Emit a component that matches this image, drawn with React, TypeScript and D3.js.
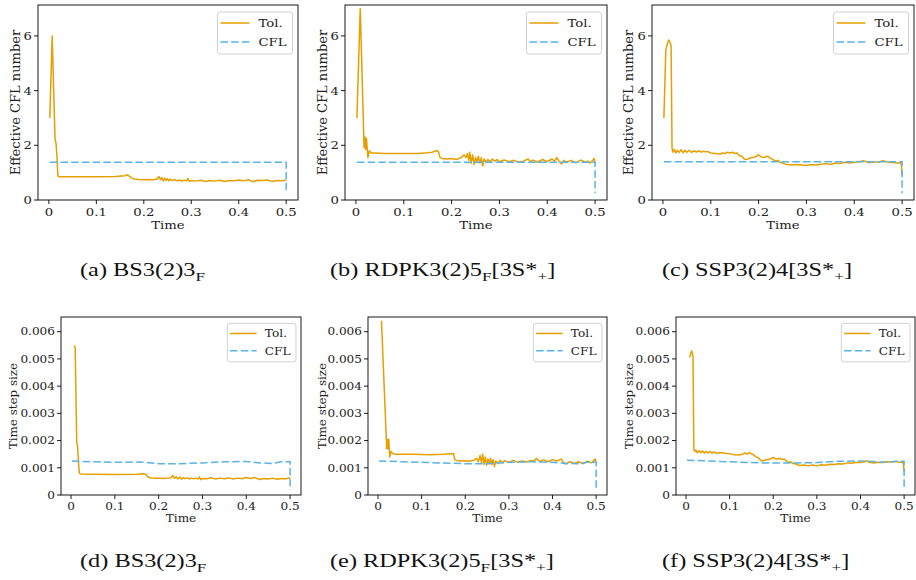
import React from 'react';
import * as d3 from 'd3';

type Pt = [number, number];

// ---------- tick values ----------
const xTicks = [0, 0.1, 0.2, 0.3, 0.4, 0.5];
const cflTicks = [0, 2, 4, 6];
const dtTicks = [0, 0.001, 0.002, 0.003, 0.004, 0.005, 0.006];
const seriesNames = ['Tol.', 'CFL'];
const xLabel = 'Time';
const yLabelTop = 'Effective CFL number';
const yLabelBottom = 'Time step size';

// ---------- captions (text, subscript flag) ----------
const capA: [string, boolean][] = [['(a) BS3(2)3', false], ['F', true]];
const capB: [string, boolean][] = [['(b) RDPK3(2)5', false], ['F', true], ['[3S*', false], ['+', true], [']', false]];
const capC: [string, boolean][] = [['(c) SSP3(2)4[3S*', false], ['+', true], [']', false]];
const capD: [string, boolean][] = [['(d) BS3(2)3', false], ['F', true]];
const capE: [string, boolean][] = [['(e) RDPK3(2)5', false], ['F', true], ['[3S*', false], ['+', true], [']', false]];
const capF: [string, boolean][] = [['(f) SSP3(2)4[3S*', false], ['+', true], [']', false]];

// ---------- effective CFL number ----------
const tolA: Pt[] = [
  [0.002, 3.0], [0.007, 6.0], [0.013, 2.2], [0.015, 2.1], [0.017, 1.6], [0.019, 0.88], [0.021, 0.85],
  [0.05, 0.85], [0.1, 0.85], [0.14, 0.86], [0.16, 0.89], [0.166, 0.92], [0.17, 0.86], [0.175, 0.8],
  [0.18, 0.77], [0.19, 0.75], [0.2, 0.74], [0.21, 0.75], [0.22, 0.74], [0.228, 0.77], [0.232, 0.86],
  [0.235, 0.74], [0.238, 0.82], [0.241, 0.7], [0.244, 0.8], [0.247, 0.71], [0.25, 0.78], [0.253, 0.7],
  [0.256, 0.76], [0.26, 0.71], [0.265, 0.75], [0.27, 0.7], [0.275, 0.73], [0.28, 0.69], [0.285, 0.72],
  [0.29, 0.7], [0.293, 0.79], [0.296, 0.68], [0.3, 0.71], [0.31, 0.69], [0.32, 0.72], [0.33, 0.68],
  [0.34, 0.71], [0.35, 0.69], [0.36, 0.72], [0.37, 0.68], [0.38, 0.71], [0.39, 0.7], [0.4, 0.73],
  [0.41, 0.7], [0.42, 0.74], [0.43, 0.67], [0.44, 0.72], [0.45, 0.71], [0.46, 0.73], [0.47, 0.68],
  [0.48, 0.71], [0.49, 0.7], [0.5, 0.72],
];
const cflA: Pt[] = [[0.002, 1.38], [0.5, 1.38], [0.5, 0.25]];

const tolB: Pt[] = [
  [0.002, 3.0], [0.009, 7.0], [0.017, 1.9], [0.019, 2.3], [0.0205, 1.85], [0.022, 2.25], [0.025, 1.55],
  [0.028, 1.8], [0.032, 1.72], [0.04, 1.72], [0.06, 1.7], [0.1, 1.7], [0.13, 1.7], [0.15, 1.73],
  [0.16, 1.75], [0.168, 1.8], [0.172, 1.78], [0.176, 1.55], [0.18, 1.52], [0.19, 1.5], [0.2, 1.52],
  [0.21, 1.48], [0.22, 1.55], [0.226, 1.65], [0.23, 1.55], [0.233, 1.7], [0.236, 1.45], [0.238, 1.75],
  [0.241, 1.35], [0.244, 1.65], [0.247, 1.3], [0.25, 1.55], [0.253, 1.4], [0.256, 1.6], [0.259, 1.35],
  [0.262, 1.55], [0.265, 1.25], [0.268, 1.5], [0.272, 1.38], [0.276, 1.48], [0.28, 1.4], [0.285, 1.5],
  [0.29, 1.42], [0.295, 1.48], [0.3, 1.4], [0.31, 1.46], [0.32, 1.4], [0.33, 1.45], [0.34, 1.38],
  [0.35, 1.42], [0.36, 1.5], [0.365, 1.4], [0.37, 1.46], [0.38, 1.38], [0.39, 1.48], [0.4, 1.4],
  [0.41, 1.5], [0.415, 1.42], [0.42, 1.55], [0.425, 1.4], [0.43, 1.32], [0.435, 1.45], [0.44, 1.38],
  [0.45, 1.45], [0.46, 1.36], [0.47, 1.46], [0.48, 1.38], [0.485, 1.42], [0.49, 1.35], [0.495, 1.45],
  [0.498, 1.52], [0.5, 1.35],
];
const cflB: Pt[] = [[0.002, 1.38], [0.5, 1.38], [0.5, 0.25]];

const tolC: Pt[] = [
  [0.002, 3.0], [0.006, 5.5], [0.01, 5.75], [0.012, 5.85], [0.015, 5.75], [0.017, 5.65], [0.019, 1.9],
  [0.021, 1.75], [0.024, 1.85], [0.027, 1.72], [0.03, 1.82], [0.034, 1.74], [0.038, 1.84], [0.042, 1.73],
  [0.046, 1.82], [0.05, 1.75], [0.055, 1.82], [0.06, 1.74], [0.065, 1.8], [0.07, 1.75], [0.075, 1.8],
  [0.08, 1.75], [0.085, 1.78], [0.09, 1.76], [0.095, 1.76], [0.1, 1.72], [0.11, 1.7], [0.12, 1.68],
  [0.125, 1.72], [0.13, 1.7], [0.135, 1.75], [0.14, 1.72], [0.145, 1.75], [0.15, 1.7], [0.155, 1.72],
  [0.16, 1.62], [0.165, 1.6], [0.17, 1.5], [0.175, 1.48], [0.18, 1.52], [0.185, 1.55], [0.19, 1.55],
  [0.195, 1.6], [0.2, 1.65], [0.205, 1.58], [0.21, 1.55], [0.215, 1.58], [0.22, 1.6], [0.225, 1.52],
  [0.23, 1.48], [0.235, 1.42], [0.24, 1.45], [0.245, 1.38], [0.25, 1.35], [0.255, 1.32], [0.26, 1.3],
  [0.27, 1.28], [0.28, 1.3], [0.29, 1.28], [0.3, 1.26], [0.31, 1.3], [0.32, 1.28], [0.33, 1.31],
  [0.34, 1.33], [0.35, 1.3], [0.36, 1.35], [0.37, 1.33], [0.38, 1.38], [0.39, 1.35], [0.4, 1.38],
  [0.41, 1.4], [0.42, 1.44], [0.43, 1.36], [0.44, 1.4], [0.45, 1.38], [0.46, 1.44], [0.47, 1.38],
  [0.48, 1.37], [0.49, 1.35], [0.498, 1.36], [0.5, 0.9],
];
const cflC: Pt[] = [[0.002, 1.4], [0.5, 1.4], [0.5, 0.25]];

// ---------- time step size ----------
const tolD: Pt[] = [
  [0.008, 0.0055], [0.0095, 0.0054], [0.013, 0.0019], [0.015, 0.0018], [0.017, 0.0012], [0.019, 0.0008],
  [0.022, 0.00077], [0.05, 0.00076], [0.1, 0.00075], [0.15, 0.00076], [0.165, 0.00078], [0.17, 0.00076],
  [0.175, 0.00068], [0.18, 0.00063], [0.19, 0.00062], [0.2, 0.00062], [0.21, 0.00061], [0.22, 0.00062],
  [0.228, 0.00063], [0.232, 0.00072], [0.236, 0.00061], [0.24, 0.00067], [0.244, 0.00059], [0.248, 0.00066],
  [0.252, 0.00058], [0.256, 0.00064], [0.26, 0.0006], [0.265, 0.00063], [0.27, 0.00059], [0.275, 0.00062],
  [0.28, 0.0006], [0.285, 0.00062], [0.29, 0.00059], [0.293, 0.00067], [0.296, 0.00056], [0.3, 0.00061],
  [0.31, 0.0006], [0.32, 0.00063], [0.33, 0.00059], [0.34, 0.00062], [0.35, 0.0006], [0.36, 0.00063],
  [0.37, 0.00059], [0.38, 0.00062], [0.39, 0.0006], [0.4, 0.00064], [0.41, 0.00061], [0.42, 0.00064],
  [0.43, 0.00057], [0.44, 0.00061], [0.45, 0.00059], [0.46, 0.00062], [0.47, 0.00058], [0.48, 0.00061],
  [0.49, 0.0006], [0.5, 0.00063],
];
const cflD: Pt[] = [
  [0.002, 0.00125], [0.05, 0.00122], [0.1, 0.0012], [0.15, 0.00121], [0.17, 0.0012], [0.2, 0.00115],
  [0.25, 0.00115], [0.3, 0.00118], [0.35, 0.00122], [0.4, 0.00123], [0.43, 0.00118], [0.46, 0.00116],
  [0.48, 0.00122], [0.5, 0.00122], [0.5, 0.0002],
];

const tolE: Pt[] = [
  [0.008, 0.0064], [0.02, 0.0017], [0.0215, 0.00205], [0.023, 0.0017], [0.0245, 0.00205], [0.027, 0.0014],
  [0.03, 0.0016], [0.034, 0.00152], [0.04, 0.0015], [0.08, 0.0015], [0.12, 0.00148], [0.15, 0.0015],
  [0.165, 0.00152], [0.17, 0.0015], [0.173, 0.00153], [0.176, 0.0013], [0.18, 0.00127], [0.19, 0.00125],
  [0.2, 0.00126], [0.21, 0.00124], [0.22, 0.00128], [0.226, 0.00135], [0.23, 0.00122], [0.234, 0.00145],
  [0.237, 0.0012], [0.24, 0.0015], [0.243, 0.00112], [0.246, 0.0014], [0.249, 0.0011], [0.252, 0.00132],
  [0.255, 0.00115], [0.258, 0.00135], [0.261, 0.00112], [0.264, 0.0013], [0.267, 0.00105], [0.27, 0.00125],
  [0.275, 0.00115], [0.28, 0.00128], [0.285, 0.00118], [0.29, 0.00126], [0.3, 0.0012], [0.31, 0.00127],
  [0.32, 0.0012], [0.33, 0.00125], [0.34, 0.00121], [0.35, 0.00126], [0.36, 0.00128], [0.363, 0.00135],
  [0.37, 0.00124], [0.38, 0.00129], [0.39, 0.00122], [0.4, 0.0013], [0.41, 0.00125], [0.42, 0.00132],
  [0.425, 0.0012], [0.43, 0.00114], [0.44, 0.00122], [0.45, 0.00116], [0.46, 0.00122], [0.47, 0.00115],
  [0.48, 0.00124], [0.49, 0.00118], [0.495, 0.00128], [0.498, 0.00132], [0.5, 0.00118],
];
const cflE: Pt[] = [
  [0.002, 0.00125], [0.1, 0.0012], [0.2, 0.00115], [0.25, 0.00115], [0.3, 0.0012], [0.35, 0.00122],
  [0.4, 0.0012], [0.43, 0.00116], [0.46, 0.00115], [0.48, 0.0012], [0.5, 0.0012], [0.5, 0.0002],
];

const tolF: Pt[] = [
  [0.008, 0.00505], [0.011, 0.0052], [0.013, 0.0053], [0.016, 0.0051], [0.018, 0.0017], [0.02, 0.0016],
  [0.023, 0.00165], [0.026, 0.00155], [0.03, 0.00163], [0.034, 0.00155], [0.038, 0.00162], [0.042, 0.00154],
  [0.046, 0.0016], [0.05, 0.00155], [0.055, 0.0016], [0.06, 0.00154], [0.065, 0.00158], [0.07, 0.00153],
  [0.08, 0.00156], [0.09, 0.00153], [0.1, 0.00152], [0.11, 0.00148], [0.12, 0.00147], [0.13, 0.0015],
  [0.135, 0.00155], [0.14, 0.0015], [0.145, 0.00156], [0.15, 0.00151], [0.155, 0.00148], [0.16, 0.0014],
  [0.165, 0.00138], [0.17, 0.0013], [0.175, 0.00125], [0.18, 0.00128], [0.185, 0.0013], [0.19, 0.0013],
  [0.195, 0.00134], [0.2, 0.00138], [0.205, 0.00133], [0.21, 0.00132], [0.215, 0.00135], [0.22, 0.0013],
  [0.225, 0.00132], [0.23, 0.00125], [0.235, 0.0012], [0.24, 0.00122], [0.245, 0.00116], [0.25, 0.00115],
  [0.255, 0.00112], [0.26, 0.00108], [0.27, 0.0011], [0.28, 0.00107], [0.29, 0.0011], [0.3, 0.00107],
  [0.31, 0.00111], [0.32, 0.00109], [0.33, 0.00113], [0.34, 0.00112], [0.35, 0.00115], [0.36, 0.00114],
  [0.37, 0.00118], [0.38, 0.00117], [0.39, 0.0012], [0.4, 0.00119], [0.41, 0.00122], [0.415, 0.00126],
  [0.42, 0.0012], [0.43, 0.00118], [0.44, 0.0012], [0.45, 0.00119], [0.46, 0.00122], [0.47, 0.00121],
  [0.48, 0.00123], [0.49, 0.0012], [0.498, 0.00119], [0.5, 0.00085],
];
const cflF: Pt[] = [
  [0.002, 0.00128], [0.1, 0.00122], [0.17, 0.00118], [0.25, 0.00118], [0.3, 0.00119], [0.35, 0.00124],
  [0.4, 0.00125], [0.43, 0.00123], [0.46, 0.0012], [0.48, 0.00124], [0.5, 0.00124], [0.5, 0.0002],
];

// ---------- styling / layout ----------
const ORANGE = '#E69F00';
const BLUE = '#56B4E9';
const SX = 1.15; // horizontal stretch of the original figure text
const CAP_SX = 1.28;
const X_DOMAIN: [number, number] = [-0.0229, 0.5249];

interface PanelCfg {
  id: string;
  tol: Pt[];
  cfl: Pt[];
  frame: { l: number; r: number; t: number; b: number };
  yMax: number;
  yTicks: number[];
  yFmt: (v: number) => string;
  yLabel: string;
  yLabelX: number;
  k: number;
  caption: [string, boolean][];
  capX: number;
  capY: number;
}

const fmtCfl = (v: number) => String(v);
const fmtDt = (v: number) => (v === 0 ? '0' : v.toFixed(3));
const fmtX = (v: number) => (v === 0 ? '0' : v.toFixed(1));

const panels: PanelCfg[] = [
  { id: 'a', tol: tolA, cfl: cflA, frame: { l: 38, r: 298, t: 5, b: 200 }, yMax: 7.13, yTicks: cflTicks, yFmt: fmtCfl, yLabel: yLabelTop, yLabelX: 15, k: 1, caption: capA, capX: 80, capY: 276 },
  { id: 'b', tol: tolB, cfl: cflB, frame: { l: 345, r: 607, t: 5, b: 200 }, yMax: 7.13, yTicks: cflTicks, yFmt: fmtCfl, yLabel: yLabelTop, yLabelX: 322, k: 1, caption: capB, capX: 330, capY: 276 },
  { id: 'c', tol: tolC, cfl: cflC, frame: { l: 652, r: 914, t: 5, b: 200 }, yMax: 7.13, yTicks: cflTicks, yFmt: fmtCfl, yLabel: yLabelTop, yLabelX: 628, k: 1, caption: capC, capX: 662, capY: 276 },
  { id: 'd', tol: tolD, cfl: cflD, frame: { l: 61, r: 301, t: 317, b: 495 }, yMax: 0.00654, yTicks: dtTicks, yFmt: fmtDt, yLabel: yLabelBottom, yLabelX: 13, k: 0.915, caption: capD, capX: 80, capY: 567 },
  { id: 'e', tol: tolE, cfl: cflE, frame: { l: 368, r: 607, t: 317, b: 495 }, yMax: 0.00654, yTicks: dtTicks, yFmt: fmtDt, yLabel: yLabelBottom, yLabelX: 322, k: 0.915, caption: capE, capX: 330, capY: 567 },
  { id: 'f', tol: tolF, cfl: cflF, frame: { l: 676, r: 915, t: 317, b: 495 }, yMax: 0.00654, yTicks: dtTicks, yFmt: fmtDt, yLabel: yLabelBottom, yLabelX: 629, k: 0.915, caption: capF, capX: 662, capY: 567 },
];

const SERIF = "'DejaVu Serif', serif";

function Panel({ p }: { p: PanelCfg }) {
  const { l, r, t, b } = p.frame;
  const k = p.k;
  const x = d3.scaleLinear().domain(X_DOMAIN).range([l, r]);
  const y = d3.scaleLinear().domain([0, p.yMax]).range([b, t]);
  const line = d3.line<Pt>().x((d) => x(d[0])).y((d) => y(d[1]));
  const tickFs = 11.5 * k;
  const tickLen = 4;
  const clipId = `clip-${p.id}`;

  // legend geometry
  const legR = r - 5.5 * k;
  const legW = 75 * k;
  const legT = t + 7 * k;
  const legH = 42 * k;
  const rows = [t + 18 * k, t + 37 * k];
  const legFs = 11.5 * k;

  return (
    <g>
      <defs>
        <clipPath id={clipId}>
          <rect x={l} y={t} width={r - l} height={b - t} />
        </clipPath>
      </defs>
      <g clipPath={`url(#${clipId})`}>
        <path d={line(p.tol) || ''} fill="none" stroke={ORANGE} strokeWidth={1.5} strokeLinejoin="round" />
        <path d={line(p.cfl) || ''} fill="none" stroke={BLUE} strokeWidth={1.5} strokeDasharray="7.5,3.2" />
      </g>
      <rect x={l} y={t} width={r - l} height={b - t} fill="none" stroke="#000" strokeWidth={0.9} />
      {/* x ticks */}
      {xTicks.map((v) => (
        <g key={`x${v}`}>
          <line x1={x(v)} x2={x(v)} y1={b} y2={b + tickLen} stroke="#000" strokeWidth={0.9} />
          <g transform={`translate(${x(v)},${b + 7 + 0.74 * tickFs}) scale(${SX},1)`}>
            <text textAnchor="middle" fontFamily={SERIF} fontSize={tickFs} fill="#222">{fmtX(v)}</text>
          </g>
        </g>
      ))}
      {/* y ticks */}
      {p.yTicks.map((v) => (
        <g key={`y${v}`}>
          <line x1={l - tickLen} x2={l} y1={y(v)} y2={y(v)} stroke="#000" strokeWidth={0.9} />
          <g transform={`translate(${l - tickLen - 2},${y(v) + 0.36 * tickFs}) scale(${SX},1)`}>
            <text textAnchor="end" fontFamily={SERIF} fontSize={tickFs} fill="#222">{p.yFmt(v)}</text>
          </g>
        </g>
      ))}
      {/* axis labels */}
      <g transform={`translate(${(l + r) / 2},${b + 29 * k}) scale(${SX},1)`}>
        <text textAnchor="middle" fontFamily={SERIF} fontSize={11.5 * k} fill="#222">{xLabel}</text>
      </g>
      <g transform={`translate(${p.yLabelX},${(t + b) / 2}) rotate(-90)`}>
        <text textAnchor="middle" dy="0.36em" fontFamily={SERIF} fontSize={13 * k} fill="#222">{p.yLabel}</text>
      </g>
      {/* legend */}
      <rect x={legR - legW} y={legT} width={legW} height={legH} rx={2.5} fill="#fff" fillOpacity={0.8} stroke="#cccccc" strokeWidth={0.9} />
      {seriesNames.map((name, i) => (
        <g key={name}>
          <line
            x1={legR - 72 * k}
            x2={legR - 43 * k}
            y1={rows[i]}
            y2={rows[i]}
            stroke={i === 0 ? ORANGE : BLUE}
            strokeWidth={1.5}
            strokeDasharray={i === 0 ? undefined : '7.5,3.2'}
          />
          <g transform={`translate(${legR - 34 * k},${rows[i] + 0.36 * legFs}) scale(${SX},1)`}>
            <text fontFamily={SERIF} fontSize={legFs} fill="#222">{name}</text>
          </g>
        </g>
      ))}
      {/* caption */}
      <g transform={`translate(${p.capX},${p.capY}) scale(${CAP_SX},1)`}>
        <text fontFamily="'Liberation Serif', serif" fontSize={19} fill="#111">
          {p.caption.map(([s, sub], i) => {
            const prevSub = i > 0 && p.caption[i - 1][1];
            const dy = sub ? 4.5 : prevSub ? -4.5 : 0;
            return (
              <tspan key={i} dy={dy} fontSize={sub ? 13.5 : 19}>
                {s}
              </tspan>
            );
          })}
        </text>
      </g>
    </g>
  );
}

export default function App() {
  return (
    <svg
      width={916}
      height={580}
      viewBox="0 0 916 580"
      style={{ position: 'absolute', left: 0, top: 0, background: '#fff' }}
    >
      <rect x={0} y={0} width={916} height={580} fill="#fff" />
      {panels.map((p) => (
        <Panel key={p.id} p={p} />
      ))}
    </svg>
  );
}
